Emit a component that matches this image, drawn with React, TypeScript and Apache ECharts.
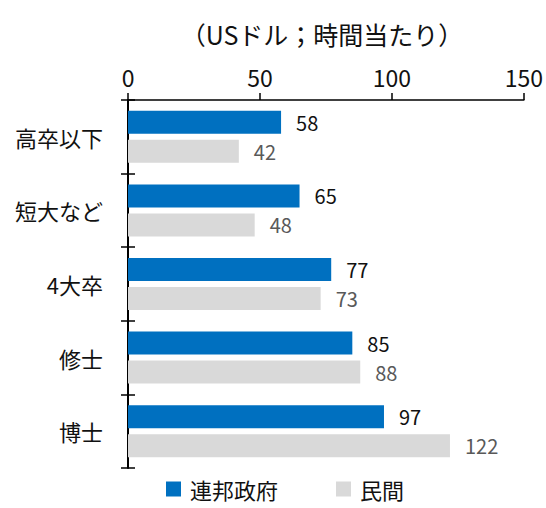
import React, { useEffect, useRef } from "react";
import * as echarts from "echarts";

const categories = ["高卒以下", "短大など", "4大卒", "修士", "博士"];
const federal = [58, 65, 77, 85, 97];
const privateSector = [42, 48, 73, 88, 122];
const xTicks = [0, 50, 100, 150];
const seriesNames = ["連邦政府", "民間"];
const title = "（USドル；時間当たり）";

const FONT = "'Noto Sans CJK JP', 'Noto Sans', sans-serif";

export default function App() {
  const ref = useRef<HTMLDivElement>(null);
  useEffect(() => {
    if (!ref.current) return;
    const chart = echarts.init(ref.current, undefined, { renderer: "svg" });
    chart.setOption({
      animation: false,
      textStyle: { fontFamily: FONT },
      title: {
        text: title,
        left: 317,
        textAlign: "center",
        top: 16,
        textStyle: { fontSize: 25, fontWeight: "normal", color: "#111", fontFamily: FONT },
      },
      legend: {
        left: 166,
        top: 477,
        padding: 0,
        itemWidth: 15,
        itemHeight: 15,
        itemGap: 58,
        icon: "rect",
        textStyle: {
          fontSize: 22,
          lineHeight: 24,
          color: "#111",
          fontFamily: FONT,
          padding: [0, 0, 0, 4],
        },
        data: seriesNames,
      },
      grid: { left: 128, right: 22, top: 100, bottom: 40, containLabel: false },
      xAxis: {
        type: "value",
        position: "top",
        min: xTicks[0],
        max: xTicks[xTicks.length - 1],
        interval: 50,
        axisLine: { show: true, lineStyle: { color: "#000", width: 1.5 } },
        axisTick: { show: true, length: 7, lineStyle: { color: "#000", width: 1.5 } },
        splitLine: { show: false },
        axisLabel: { fontSize: 23, color: "#111", margin: 12, fontFamily: FONT },
      },
      yAxis: [
        {
          type: "category",
          data: categories,
          inverse: true,
          axisLine: { show: true, lineStyle: { color: "#000", width: 2 } },
          axisTick: { show: true, length: 7, lineStyle: { color: "#000", width: 1.5 } },
          axisLabel: { fontSize: 22, color: "#111", margin: 25, fontFamily: FONT },
        },
        {
          type: "category",
          data: categories,
          inverse: true,
          position: "left",
          axisLine: { show: false },
          axisTick: { show: true, inside: true, length: 7, lineStyle: { color: "#000", width: 1.5 } },
          axisLabel: { show: false },
        },
      ],
      series: [
        {
          name: seriesNames[0],
          type: "bar",
          data: federal,
          barWidth: 23,
          barGap: "26%",
          itemStyle: { color: "#0070C0" },
          label: {
            show: true,
            position: "right",
            distance: 15,
            fontSize: 20,
            color: "#111",
            fontFamily: FONT,
          },
        },
        {
          name: seriesNames[1],
          type: "bar",
          data: privateSector,
          barWidth: 23,
          barGap: "26%",
          itemStyle: { color: "#D9D9D9" },
          label: {
            show: true,
            position: "right",
            distance: 15,
            fontSize: 20,
            color: "#595959",
            fontFamily: FONT,
          },
        },
      ],
    });
    return () => chart.dispose();
  }, []);
  return (
    <div
      ref={ref}
      style={{ position: "fixed", left: 0, top: 0, width: 546, height: 508, background: "#fff" }}
    />
  );
}
